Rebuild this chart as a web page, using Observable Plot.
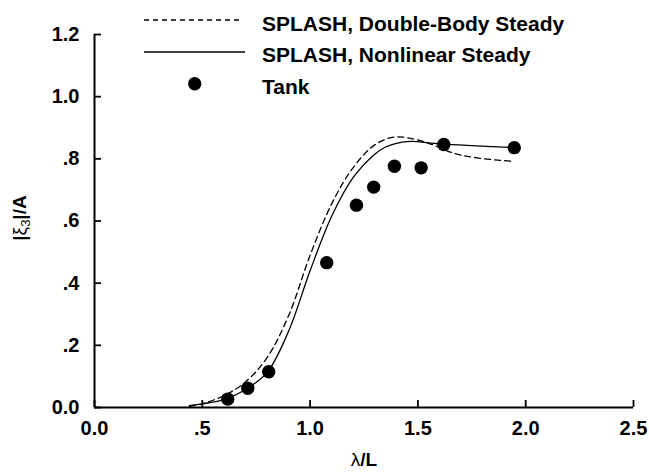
<!DOCTYPE html>
<html>
<head>
<meta charset="utf-8">
<script src="https://cdn.jsdelivr.net/npm/d3@7"></script>
<script src="https://cdn.jsdelivr.net/npm/@observablehq/plot@0.6"></script>
<style>
  html, body { margin: 0; padding: 0; background: #fff; }
  #chart { width: 649px; height: 473px; }
</style>
</head>
<body>
<div id="chart"></div>
<script>
// ---- Data ----
const xTicks = [0, 0.5, 1.0, 1.5, 2.0, 2.5];
const yTicks = [0, 0.2, 0.4, 0.6, 0.8, 1.0, 1.2];

const tankX = [0.618, 0.711, 0.808, 1.077, 1.215, 1.295, 1.391, 1.515, 1.620, 1.947];
const tankY = [0.027, 0.062, 0.115, 0.466, 0.651, 0.709, 0.776, 0.771, 0.846, 0.836];

const nonlinX = [0.44, 0.50, 0.60, 0.70, 0.80, 0.90, 1.00, 1.10, 1.20, 1.30, 1.35, 1.40, 1.466, 1.605, 1.95];
const nonlinY = [0.006, 0.012, 0.025, 0.058, 0.112, 0.245, 0.44, 0.615, 0.74, 0.815, 0.838, 0.850, 0.856, 0.848, 0.836];

const doubleX = [0.44, 0.50, 0.60, 0.70, 0.80, 0.90, 1.00, 1.10, 1.20, 1.30, 1.39, 1.48, 1.55, 1.667, 1.775, 1.937];
const doubleY = [0.003, 0.012, 0.038, 0.082, 0.16, 0.295, 0.49, 0.655, 0.772, 0.845, 0.870, 0.864, 0.850, 0.818, 0.803, 0.792];

const seriesNames = ["SPLASH, Double-Body Steady", "SPLASH, Nonlinear Steady", "Tank"];

const tank = tankX.map((x, i) => ({x, y: tankY[i]}));
const nonlin = nonlinX.map((x, i) => ({x, y: nonlinY[i]}));
const dbl = doubleX.map((x, i) => ({x, y: doubleY[i]}));

const fmt = d => {
  const s = d.toFixed(1);
  return (d > 0 && d < 1) ? s.replace(/^0/, "") : s;
};

const font = "'Liberation Sans', Arial, Helvetica, sans-serif";
const W = 649, H = 473, mL = 94, mR = 16, mT = 34, mB = 66;
const xDomain = [0, 2.5], yDomain = [0, 1.2];
const frameW = W - mL - mR, frameH = H - mT - mB, tickLen = 7;
// inward tick length expressed in data units so the ticks go through Plot's scales
const xTickLen = (xDomain[1] - xDomain[0]) * tickLen / frameW;
const yTickLen = (yDomain[1] - yDomain[0]) * tickLen / frameH;

const chart = Plot.plot({
  width: W,
  height: H,
  marginLeft: mL,
  marginRight: mR,
  marginTop: mT,
  marginBottom: mB,
  style: {fontFamily: font, background: "#fff", color: "#000"},
  x: {domain: xDomain},
  y: {domain: yDomain},
  marks: [
    Plot.axisX(xTicks, {tickSize: 0, tickPadding: 13, tickFormat: fmt, fontSize: 20, fontWeight: "bold", label: null, fill: "#000"}),
    Plot.axisY(yTicks, {tickSize: 0, tickPadding: 15, tickFormat: fmt, fontSize: 20, fontWeight: "bold", label: null, fill: "#000"}),
    Plot.ruleX(xTicks, {x: d => d, y1: yDomain[0], y2: yDomain[0] + yTickLen, stroke: "#000", strokeWidth: 1.8}),
    Plot.ruleY(yTicks, {y: d => d, x1: xDomain[0], x2: xDomain[0] + xTickLen, stroke: "#000", strokeWidth: 1.8}),
    Plot.ruleX([0], {stroke: "#000", strokeWidth: 2}),
    Plot.ruleY([0], {stroke: "#000", strokeWidth: 2}),
    Plot.line(dbl, {x: "x", y: "y", stroke: "#000", strokeWidth: 1.3, strokeDasharray: "6,4", curve: "catmull-rom"}),
    Plot.line(nonlin, {x: "x", y: "y", stroke: "#000", strokeWidth: 1.3, curve: "catmull-rom"}),
    Plot.dot(tank, {x: "x", y: "y", r: 6.7, fill: "#000", stroke: "none"})
  ]
});

document.getElementById("chart").appendChild(chart);

const svg = d3.select(chart);

// ---- Legend and axis titles ----
const g = svg.append("g").attr("font-family", font).attr("fill", "#000").attr("text-anchor", "start");

g.append("line").attr("x1", 144).attr("x2", 243).attr("y1", 20).attr("y2", 20)
  .attr("stroke", "#000").attr("stroke-width", 1.3).attr("stroke-dasharray", "5,4");
g.append("line").attr("x1", 144).attr("x2", 245).attr("y1", 52).attr("y2", 52)
  .attr("stroke", "#000").attr("stroke-width", 1.3);
g.append("circle").attr("cx", 194.7).attr("cy", 83.7).attr("r", 6.7).attr("fill", "#000");

const legendY = [24, 55, 87];
seriesNames.forEach((name, i) => {
  g.append("text").attr("x", 262).attr("y", legendY[i]).attr("dy", "0.35em")
    .attr("text-anchor", "start")
    .attr("font-size", 21).attr("font-weight", "bold").text(name);
});

// x label
const xl = g.append("text").attr("x", 364).attr("y", 466).attr("text-anchor", "middle").attr("font-size", 19);
xl.append("tspan").attr("font-weight", "normal").text("λ");
xl.append("tspan").attr("font-weight", "bold").text("/L");

// y label
const yl = g.append("text").attr("transform", "translate(26,218) rotate(-90)").attr("text-anchor", "middle").attr("font-size", 19);
yl.append("tspan").attr("font-weight", "bold").text("|");
yl.append("tspan").attr("font-weight", "normal").text("ξ");
yl.append("tspan").attr("font-weight", "normal").attr("font-size", 13).attr("dy", 4).text("3");
yl.append("tspan").attr("font-weight", "bold").attr("dy", -4).text("|/A");
</script>
</body>
</html>
